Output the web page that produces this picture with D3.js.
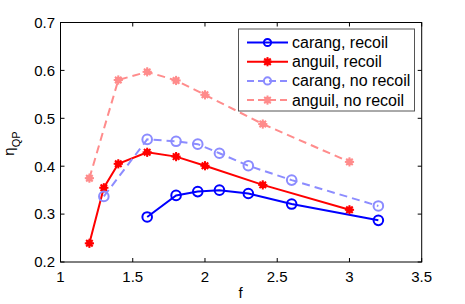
<!DOCTYPE html>
<html><head><meta charset="utf-8">
<script src="https://cdn.jsdelivr.net/npm/d3@7"></script>
<style>body{margin:0;background:#fff}svg{display:block;font-family:"Liberation Sans",Arial,sans-serif}</style>
</head><body><svg id="c" width="465" height="304"></svg>
<script>
const carangX = [1.6, 1.8, 1.95, 2.1, 2.3, 2.6, 3.2];
const carangRecoil = [0.294, 0.339, 0.347, 0.350, 0.343, 0.321, 0.287];
const carangNoX = [1.3, 1.6, 1.8, 1.95, 2.1, 2.3, 2.6, 3.2];
const carangNoRecoil = [0.337, 0.456, 0.452, 0.446, 0.427, 0.401, 0.371, 0.317];
const anguilX = [1.2, 1.3, 1.4, 1.6, 1.8, 2.0, 2.4, 3.0];
const anguilRecoil = [0.239, 0.355, 0.405, 0.429, 0.420, 0.401, 0.361, 0.309];
const anguilNoX = [1.2, 1.4, 1.6, 1.8, 2.0, 2.4, 3.0];
const anguilNoRecoil = [0.375, 0.580, 0.597, 0.579, 0.549, 0.488, 0.409];
const xTicks = [1, 1.5, 2, 2.5, 3, 3.5];
const yTicks = [0.2, 0.3, 0.4, 0.5, 0.6, 0.7];
const seriesNames = ["carang, recoil", "anguil, recoil", "carang, no recoil", "anguil, no recoil"];

const series = [
  {name: seriesNames[0], xs: carangX, ys: carangRecoil, color: "#0000ff", dash: null, marker: "o"},
  {name: seriesNames[1], xs: anguilX, ys: anguilRecoil, color: "#ff0000", dash: null, marker: "*"},
  {name: seriesNames[2], xs: carangNoX, ys: carangNoRecoil, color: "#8c8cff", dash: "8,5", marker: "o"},
  {name: seriesNames[3], xs: anguilNoX, ys: anguilNoRecoil, color: "#ff8c8c", dash: "8,5", marker: "*"}
];

const svg = d3.select("#c");
const L = 60.5, R = 421.7, T = 22.5, B = 262;
const x = d3.scaleLinear().domain([1, 3.5]).range([L, R]);
const y = d3.scaleLinear().domain([0.2, 0.7]).range([B, T]);

svg.append("rect").attr("x", L).attr("y", T).attr("width", R - L).attr("height", B - T)
  .attr("fill", "none").attr("stroke", "#000").attr("stroke-width", 1);

const g = svg.append("g");
xTicks.forEach(t => {
  g.append("line").attr("x1", x(t)).attr("x2", x(t)).attr("y1", B).attr("y2", B - 4).attr("stroke", "#000");
  g.append("line").attr("x1", x(t)).attr("x2", x(t)).attr("y1", T).attr("y2", T + 4).attr("stroke", "#000");
  g.append("text").attr("x", x(t)).attr("y", 281.5).attr("text-anchor", "middle")
    .attr("font-size", 15).text(d3.format("")(t));
});
yTicks.forEach(t => {
  g.append("line").attr("x1", L).attr("x2", L + 4).attr("y1", y(t)).attr("y2", y(t)).attr("stroke", "#000");
  g.append("line").attr("x1", R).attr("x2", R - 4).attr("y1", y(t)).attr("y2", y(t)).attr("stroke", "#000");
  g.append("text").attr("x", 55).attr("y", y(t) + 5.3).attr("text-anchor", "end")
    .attr("font-size", 15).text(d3.format(".1f")(t));
});

svg.append("text").attr("x", x(2.25) - 0.5).attr("y", 298).attr("text-anchor", "middle").attr("font-size", 15).text("f");
const yl = svg.append("text").attr("transform", "translate(14,143.5) rotate(-90)").attr("text-anchor", "middle").attr("font-size", 15);
yl.append("tspan").text("η");
yl.append("tspan").attr("font-size", 11).attr("dy", 6).text("QP");

function drawMarker(sel, type, cx, cy, color) {
  if (type === "o") {
    sel.append("circle").attr("cx", cx).attr("cy", cy).attr("r", 4.8)
      .attr("fill", "none").attr("stroke", color).attr("stroke-width", 2);
  } else {
    sel.append("circle").attr("cx", cx).attr("cy", cy).attr("r", 3.3).attr("fill", color);
    for (let a = 0; a < 4; a++) {
      const ang = a * Math.PI / 4;
      const dx = Math.cos(ang) * 4.6, dy = Math.sin(ang) * 4.6;
      sel.append("line").attr("x1", cx - dx).attr("y1", cy - dy).attr("x2", cx + dx).attr("y2", cy + dy)
        .attr("stroke", color).attr("stroke-width", 2);
    }
  }
}

const line = d3.line().x(d => x(d[0])).y(d => y(d[1]));
series.forEach(s => {
  const pts = s.xs.map((v, i) => [v, s.ys[i]]);
  const sg = svg.append("g");
  sg.append("path").attr("d", line(pts)).attr("fill", "none").attr("stroke", s.color)
    .attr("stroke-width", 2).attr("stroke-dasharray", s.dash);
  pts.forEach(p => drawMarker(sg, s.marker, x(p[0]), y(p[1]), s.color));
});

const lg = svg.append("g");
lg.append("rect").attr("x", 238.5).attr("y", 29).attr("width", 176).attr("height", 82)
  .attr("fill", "#fff").attr("stroke", "#555").attr("stroke-width", 1);
series.forEach((s, i) => {
  const ly = 42.5 + i * 19.2;
  lg.append("line").attr("x1", 247).attr("x2", 288).attr("y1", ly).attr("y2", ly)
    .attr("stroke", s.color).attr("stroke-width", 2).attr("stroke-dasharray", s.dash ? "7,4" : null);
  if (s.marker === "o") {
    lg.append("circle").attr("cx", 267.5).attr("cy", ly).attr("r", 3.6)
      .attr("fill", "none").attr("stroke", s.color).attr("stroke-width", 2);
  } else drawMarker(lg, "*", 267.5, ly, s.color);
  lg.append("text").attr("x", 292).attr("y", ly + 5.5).attr("font-size", 16).text(s.name);
});
</script></body></html>
